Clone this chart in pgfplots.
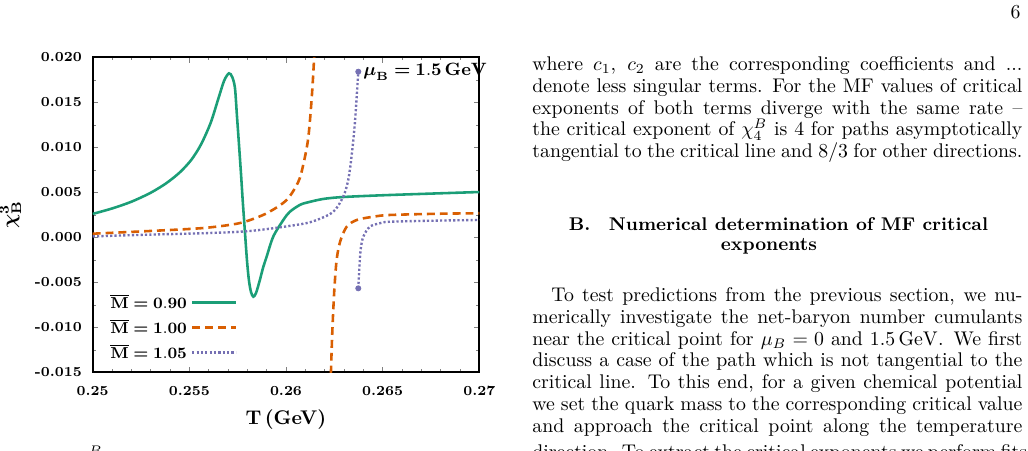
\documentclass[border=0pt]{standalone}
\usepackage{amsmath}
\usepackage{pgfplots}
\pgfplotsset{compat=1.18}

\definecolor{cgreen}{RGB}{27,158,119}
\definecolor{corange}{RGB}{217,95,2}
\definecolor{cpurple}{RGB}{117,112,179}

\newlength\colw \setlength\colw{247.45pt}
\newlength\indw \setlength\indw{237.86pt}

\begin{document}
\begin{tikzpicture}

\begin{axis}[
  at={(46.81pt,39.74pt)}, anchor=south west,
  scale only axis, width=195.23pt, height=159.08pt,
  xmin=0.25, xmax=0.27, ymin=-0.015, ymax=0.020,
  scaled ticks=false,
  xtick={0.25,0.255,0.26,0.265,0.27},
  xticklabels={0.25,0.255,0.26,0.265,0.27},
  ytick={-0.015,-0.01,-0.005,0,0.005,0.01,0.015,0.02},
  yticklabels={-0.015,-0.010,-0.005,0.000,0.005,0.010,0.015,0.020},
  minor x tick num=4, minor y tick num=1,
  tick align=inside, major tick length=2.8pt, minor tick length=1.6pt,
  axis line style={line width=0.9pt},
  tick label style={font=\fontsize{7.0}{9}\selectfont\bfseries},
  xticklabel style={yshift=-3.5pt},
  yticklabel style={xshift=-2pt},
  xlabel={\textbf{T\,(GeV)}},
  ylabel={$\boldsymbol{\chi}^{\mathbf{3}}_{\mathbf{B}}$},
  legend style={at={(0.0447,0.241)}, anchor=north west,
    draw=none, fill=none, inner sep=0pt,
    font=\fontsize{8.2}{10}\selectfont,
    nodes={inner sep=0pt, text height=6pt, text depth=0pt},
    row sep=6.6pt, column sep=2pt},
  legend cell align=right,
  legend plot pos=right,
  legend image code/.code={\draw[#1] (0pt,0pt) -- (22pt,0pt);},
]
\addplot[cgreen, line width=1.3pt, smooth] coordinates {
(0.25000,0.00260) (0.25100,0.00320) (0.25200,0.00395) (0.25300,0.00495)
(0.25380,0.00600) (0.25450,0.00720) (0.25510,0.00860) (0.25560,0.01030)
(0.25610,0.01270) (0.25650,0.01540) (0.25680,0.01740) (0.25705,0.01822)
(0.25722,0.01780) (0.25736,0.01659) (0.25746,0.01359) (0.25757,0.01026)
(0.25767,0.00714) (0.25777,0.00381) (0.25788,0.00048) (0.25798,-0.00252)
(0.25808,-0.00474) (0.25819,-0.00608) (0.25831,-0.00660) (0.25845,-0.00619)
(0.25865,-0.00474) (0.25881,-0.00341) (0.25900,-0.00215) (0.25934,0.00007)
(0.25986,0.00192) (0.26020,0.00284) (0.26072,0.00360) (0.26107,0.00385)
(0.26193,0.00426) (0.26300,0.00448) (0.26538,0.00470) (0.27000,0.00503)
};
\addlegendentry{$\overline{\mathbf{M}}\boldsymbol{=}\mathbf{0.90}$}
\addplot[corange, line width=1.3pt, smooth, dash pattern=on 4pt off 2.5pt] coordinates {
(0.25000,0.00040) (0.25297,0.00070) (0.25555,0.00100) (0.25700,0.00135)
(0.25788,0.00173) (0.25900,0.00267) (0.26003,0.00414) (0.26064,0.00618)
(0.26089,0.00803) (0.26115,0.01100) (0.26133,0.01544) (0.26145,0.01970)
(0.26152,0.02300)
};
\addlegendentry{$\overline{\mathbf{M}}\boldsymbol{=}\mathbf{1.00}$}
\addplot[cpurple, line width=1.2pt, smooth, dash pattern=on 1.1pt off 1.1pt] coordinates {
(0.25000,0.00010) (0.25297,0.00030) (0.25555,0.00044) (0.25814,0.00070)
(0.26072,0.00144) (0.26159,0.00192) (0.26245,0.00284) (0.26296,0.00451)
(0.26322,0.00637) (0.26340,0.00914) (0.26357,0.01285) (0.26374,0.01840)
};
\addlegendentry{$\overline{\mathbf{M}}\boldsymbol{=}\mathbf{1.05}$}
\addplot[corange, line width=1.3pt, smooth, dash pattern=on 4pt off 2.5pt, forget plot] coordinates {
(0.26229,-0.01800) (0.26233,-0.01470) (0.26240,-0.01030) (0.26250,-0.00586)
(0.26262,-0.00252) (0.26280,-0.00049) (0.26314,0.00118) (0.26366,0.00192)
(0.26452,0.00229) (0.26538,0.00248) (0.26800,0.00262) (0.27000,0.00267)
};
\addplot[cpurple, line width=1.2pt, smooth, dash pattern=on 1.1pt off 1.1pt, forget plot] coordinates {
(0.26374,-0.00567) (0.26379,-0.00363) (0.26386,-0.00141) (0.26400,0.00007)
(0.26434,0.00118) (0.26486,0.00156) (0.26538,0.00173) (0.26800,0.00186)
(0.27000,0.00192)
};
\addplot[cpurple, only marks, mark=*, mark size=1.3pt, forget plot] coordinates {
(0.26374,0.01840) (0.26374,-0.00567)
};
\end{axis}

\begin{scope}[x=0.505pt,y=0.505pt]
  \node[anchor=base west, inner sep=0pt] at (363,451-75.7)
    {\fontsize{8.6}{10}\selectfont$\boldsymbol{\mu}_{\mathbf{B}}\boldsymbol{=}\mathbf{1.5\,GeV}$};
  \node[anchor=base east, inner sep=0pt] at (1021,451-19) {6};
  \node[anchor=base west, inner sep=0pt] at (532,451-71)
    {\hbox to \colw{where $c_1$, $c_2$ are the corresponding coefficients and ...}};
  \node[anchor=base west, inner sep=0pt] at (532,451-93)
    {\hbox to \colw{denote less singular terms. For the MF values of critical}};
  \node[anchor=base west, inner sep=0pt] at (532,451-115)
    {\hbox to \colw{exponents of both terms diverge with the same rate --}};
  \node[anchor=base west, inner sep=0pt] at (532,451-136)
    {\hbox to \colw{the critical exponent of $\chi_4^B$ is 4 for paths asymptotically}};
  \node[anchor=base west, inner sep=0pt] at (532,451-158)
    {\hbox to \colw{tangential to the critical line and $8/3$ for other directions.}};
  \node[anchor=base, inner sep=0pt] at (778.5,451-231)
    {\fontsize{9.3}{11}\selectfont\bfseries B.\quad Numerical determination of MF critical};
  \node[anchor=base, inner sep=0pt] at (769,451-251)
    {\fontsize{9.6}{11}\selectfont\bfseries exponents};
  \node[anchor=base west, inner sep=0pt] at (551,451-302)
    {\hbox to \indw{To test predictions from the previous section, we nu-}};
  \node[anchor=base west, inner sep=0pt] at (532,451-324)
    {\hbox to \colw{merically investigate the net-baryon number cumulants}};
  \node[anchor=base west, inner sep=0pt] at (532,451-346)
    {\hbox to \colw{near the critical point for $\mu_B=0$ and $1.5\,\mathrm{GeV}$. We first}};
  \node[anchor=base west, inner sep=0pt] at (532,451-367)
    {\hbox to \colw{discuss a case of the path which is not tangential to the}};
  \node[anchor=base west, inner sep=0pt] at (532,451-389)
    {\hbox to \colw{critical line. To this end, for a given chemical potential}};
  \node[anchor=base west, inner sep=0pt] at (532,451-411)
    {\hbox to \colw{we set the quark mass to the corresponding critical value}};
  \node[anchor=base west, inner sep=0pt] at (532,451-433)
    {\hbox to \colw{and approach the critical point along the temperature}};
  \node[anchor=base west, inner sep=0pt] at (532,451-459)
    {\hbox to \colw{direction. To extract the critical exponents we perform fits}};
  \node[anchor=base west, inner sep=0pt] at (76,451-463) {$\chi_3^B$};
\end{scope}
\pgfresetboundingbox
\useasboundingbox (0,0) rectangle (519.14pt,227.755pt);
\end{tikzpicture}
\end{document}
